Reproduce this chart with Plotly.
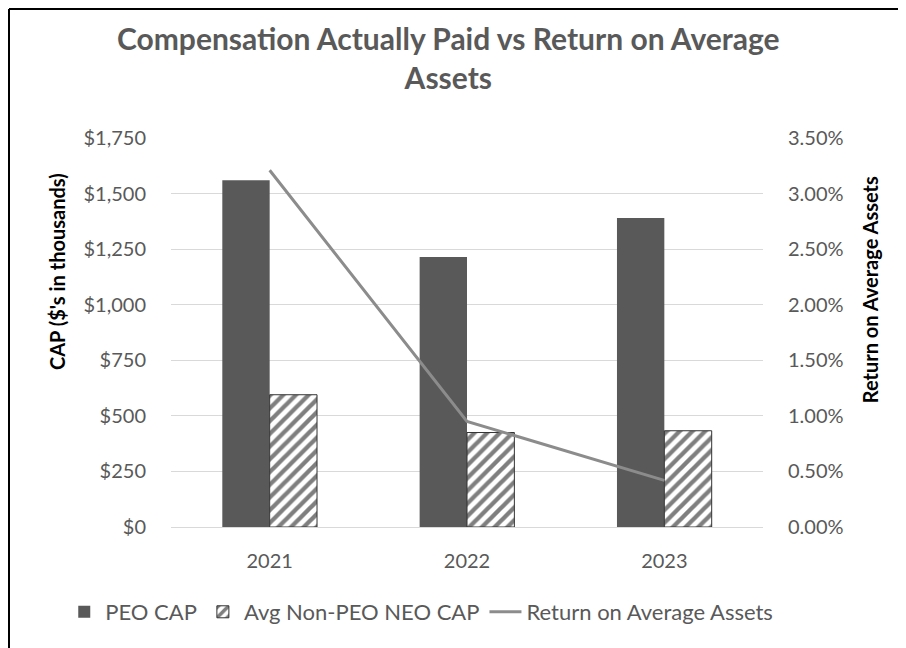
import plotly.graph_objects as go

years = ["2021", "2022", "2023"]
peo_cap = [1560, 1215, 1390]
non_peo_cap = [595, 425, 433]
roaa = [0.0321, 0.0095, 0.0042]

FONT = "Lato, Noto Sans, sans-serif"

# page is drawn with an 8px body offset; margins compensate for it
L, T, PW, PH = 163, 130, 592, 389

fig = go.Figure()
fig.add_trace(go.Bar(
    x=years, y=peo_cap, name="PEO CAP",
    marker=dict(color="#595959", line=dict(width=0)),
))
fig.add_trace(go.Bar(
    x=years, y=non_peo_cap, name="Avg Non-PEO NEO CAP",
    marker=dict(color="white", line=dict(color="#333333", width=1),
                pattern=dict(shape="/", fgcolor="black", bgcolor="white",
                             size=9, solidity=0.48)),
))
fig.add_trace(go.Scatter(
    x=years, y=roaa, name="Return on Average Assets", yaxis="y2",
    mode="lines", line=dict(color="#8c8c8c", width=3),
))

fig.update_layout(
    width=906, height=648,
    paper_bgcolor="white", plot_bgcolor="white",
    margin=dict(l=L, r=906 - L - PW, t=T, b=648 - T - PH, autoexpand=False),
    barmode="group", bargap=0.52, bargroupgap=0,
    title=dict(text="Compensation Actually Paid vs Return on Average<br>Assets",
               x=0.486, xanchor="center", y=0.935, yanchor="middle",
               font=dict(family=FONT, size=30, color="#595959", weight="bold")),
    font=dict(family=FONT, size=20, color="#595959"),
    xaxis=dict(showgrid=False, showline=True, linecolor="#d9d9d9", linewidth=1,
               ticks="outside", ticklen=16, tickcolor="rgba(0,0,0,0)",
               automargin=False, tickfont=dict(size=20, color="#595959")),
    yaxis=dict(range=[0, 1750], dtick=250, tickprefix="$", tickformat=",",
               showgrid=True, gridcolor="#d9d9d9", gridwidth=1, automargin=False,
               zeroline=False, ticks="outside", ticklen=20, tickcolor="rgba(0,0,0,0)",
               tickfont=dict(size=20, color="#595959")),
    yaxis2=dict(range=[0, 0.035], dtick=0.005, tickformat=".2%", overlaying="y",
                side="right", showgrid=False, zeroline=False, automargin=False,
                ticks="outside", ticklen=20, tickcolor="rgba(0,0,0,0)",
                tickfont=dict(size=20, color="#595959")),
    legend=dict(orientation="h", x=-0.182, xanchor="left", y=-0.2185, yanchor="middle",
                font=dict(size=22, color="#595959"), itemwidth=32,
                traceorder="normal"),
    annotations=[
        dict(text="<b>CAP ($'s in thousands)</b>", xref="paper", yref="paper",
             x=-0.1926, y=0.658, textangle=-90, showarrow=False,
             xanchor="center", yanchor="middle",
             font=dict(family=FONT, size=20, color="black")),
        dict(text="<b>Return on Average Assets</b>", xref="paper", yref="paper",
             x=1.181, y=0.609, textangle=-90, showarrow=False,
             xanchor="center", yanchor="middle",
             font=dict(family=FONT, size=20, color="black")),
    ],
    shapes=[
        dict(type="line", xref="paper", yref="paper",
             x0=(1 - L) / PW, x1=(906 - L) / PW, y0=1 + (T - 1) / PH, y1=1 + (T - 1) / PH,
             line=dict(color="black", width=2)),
        dict(type="line", xref="paper", yref="paper",
             x0=(1 - L) / PW, x1=(1 - L) / PW, y0=-(648 - T - PH) / PH, y1=1 + (T - 1) / PH,
             line=dict(color="black", width=2)),
    ],
)

fig.write_html("out.html")
